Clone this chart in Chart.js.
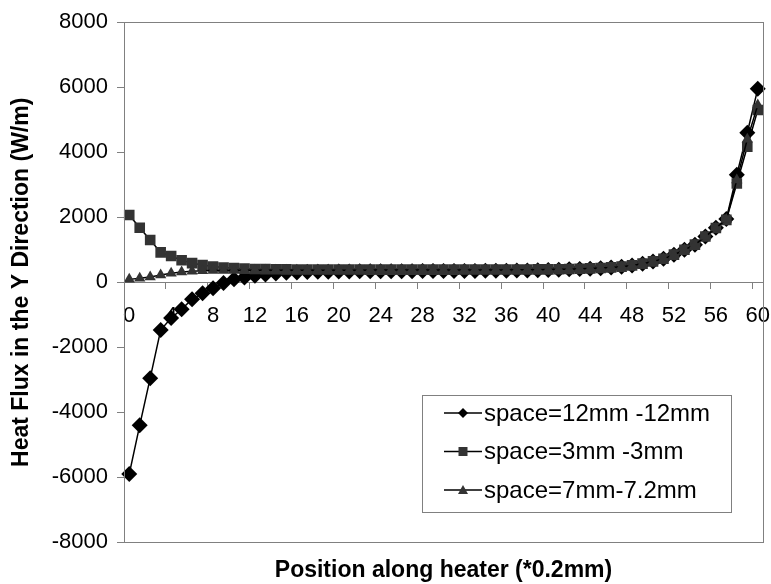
<!DOCTYPE html>
<html>
<head>
<meta charset="utf-8">
<script src="https://cdn.jsdelivr.net/npm/chart.js@4.4.0/dist/chart.umd.min.js"></script>
<style>
  html, body { margin: 0; padding: 0; background: #fff; }
  #wrap { width: 771px; height: 584px; position: relative; }
</style>
</head>
<body>
<div id="wrap"><canvas id="grafico"></canvas></div>
<script>
// posições ao longo do aquecedor (*0.2mm)
const positions = ['0','1','2','3','4','5','6','7','8','9',
  '10','11','12','13','14','15','16','17','18','19',
  '20','21','22','23','24','25','26','27','28','29',
  '30','31','32','33','34','35','36','37','38','39',
  '40','41','42','43','44','45','46','47','48','49',
  '50','51','52','53','54','55','56','57','58','59','60'];

const xTickLabels = ['0','4','8','12','16','20','24','28','32','36','40','44','48','52','56','60'];

// space=12mm -12mm (losango)
const space12 = [-5900, -4400, -2950, -1470, -1100, -830, -520, -340, -180, -20,
  90, 150, 200, 240, 270, 290, 305, 315, 322, 328,
  332, 335, 337, 339, 340, 341, 342, 343, 344, 345,
  346, 347, 348, 350, 352, 354, 357, 360, 364, 369,
  380, 388, 398, 408, 420, 434, 454, 478, 516, 570,
  642, 722, 848, 998, 1158, 1405, 1675, 1950, 3310, 4600,
  5950];

// space=3mm -3mm (quadrado)
const space3 = [2070, 1680, 1300, 920, 810, 680, 590, 530, 485, 455,
  435, 420, 410, 404, 400, 397, 395, 394, 393, 393,
  392, 392, 392, 391, 391, 391, 391, 391, 391, 391,
  391, 391, 392, 392, 392, 393, 393, 394, 395, 396,
  398, 403, 410, 418, 428, 440, 458, 482, 520, 575,
  645, 725, 850, 1000, 1160, 1410, 1670, 1920, 3040, 4170,
  5300];

// space=7mm-7.2mm (triângulo)
const space7 = [90, 125, 165, 225, 275, 315, 340, 352, 360, 364,
  367, 369, 370, 371, 372, 372, 373, 373, 373, 374,
  374, 374, 374, 375, 375, 375, 375, 375, 376, 376,
  376, 377, 377, 378, 379, 380, 381, 383, 385, 388,
  392, 398, 405, 414, 425, 437, 455, 480, 518, 572,
  642, 722, 848, 998, 1158, 1405, 1672, 1930, 3150, 4400,
  5450];

const yTicks = [-8000, -6000, -4000, -2000, 0, 2000, 4000, 6000, 8000];

const cinza = '#808080';
Chart.defaults.font.family = "'Liberation Sans', Arial, sans-serif";
Chart.defaults.color = '#000';

// moldura da área do gráfico + legenda com caixa
const molduraLegenda = {
  id: 'molduraLegenda',
  afterDraw(chart) {
    const { ctx, chartArea } = chart;
    ctx.save();
    ctx.strokeStyle = cinza;
    ctx.lineWidth = 1;
    ctx.strokeRect(Math.round(chartArea.left) + 0.5, Math.round(chartArea.top) + 0.5,
      Math.round(chartArea.right - chartArea.left), Math.round(chartArea.bottom - chartArea.top));

    const w = 309, h = 117;
    const bx = Math.round(chartArea.right - 32 - w);
    const by = Math.round(chartArea.bottom - 30 - h);
    ctx.fillStyle = '#fff';
    ctx.fillRect(bx, by, w, h);
    ctx.strokeRect(bx + 0.5, by + 0.5, w, h);

    chart.data.datasets.forEach((ds, i) => {
      const cy = by + 18 + i * 38.5;
      const mx = bx + 41;
      ctx.strokeStyle = '#000';
      ctx.lineWidth = 1.5;
      ctx.beginPath();
      ctx.moveTo(bx + 22, cy);
      ctx.lineTo(bx + 60, cy);
      ctx.stroke();
      ctx.fillStyle = ds.pointBackgroundColor;
      ctx.beginPath();
      if (ds.pointStyle === 'rectRot') {
        ctx.moveTo(mx, cy - 5); ctx.lineTo(mx + 5, cy); ctx.lineTo(mx, cy + 5); ctx.lineTo(mx - 5, cy);
      } else if (ds.pointStyle === 'rect') {
        ctx.rect(mx - 4.5, cy - 4.5, 9, 9);
      } else {
        ctx.moveTo(mx, cy - 5); ctx.lineTo(mx + 5, cy + 4); ctx.lineTo(mx - 5, cy + 4);
      }
      ctx.closePath();
      ctx.fill();
      ctx.fillStyle = '#000';
      ctx.font = "24px 'Liberation Sans', Arial, sans-serif";
      ctx.textBaseline = 'middle';
      ctx.textAlign = 'left';
      ctx.fillText(ds.label, bx + 62, cy + 1);
    });
    ctx.restore();
  }
};

const ctx = document.getElementById('grafico').getContext('2d');
new Chart(ctx, {
  type: 'line',
  data: {
    labels: positions,
    datasets: [
      {
        label: 'space=12mm -12mm',
        data: space12,
        borderColor: '#000',
        borderWidth: 1.5,
        pointStyle: 'rectRot',
        pointRadius: 8,
        pointBackgroundColor: '#000',
        pointBorderColor: '#000',
        pointBorderWidth: 0,
        tension: 0,
        order: 2
      },
      {
        label: 'space=3mm -3mm',
        data: space3,
        borderColor: '#000',
        borderWidth: 1.5,
        pointStyle: 'rect',
        pointRadius: 7.5,
        pointBackgroundColor: '#333',
        pointBorderColor: '#333',
        pointBorderWidth: 0,
        tension: 0,
        order: 1
      },
      {
        label: 'space=7mm-7.2mm',
        data: space7,
        borderColor: '#000',
        borderWidth: 1.5,
        pointStyle: 'triangle',
        pointRadius: 6.5,
        pointBackgroundColor: '#333',
        pointBorderColor: '#333',
        pointBorderWidth: 0,
        tension: 0,
        order: 0
      }
    ]
  },
  options: {
    responsive: true,
    maintainAspectRatio: false,
    animation: false,
    layout: { padding: { left: 0, right: 7, top: 20, bottom: 0 } },
    plugins: {
      legend: { display: false },
      tooltip: { enabled: false },
      title: {
        display: true,
        position: 'bottom',
        fullSize: false,
        text: 'Position along heater (*0.2mm)',
        color: '#000',
        font: { size: 23, weight: 'bold' },
        padding: { top: 14, bottom: 0 }
      }
    },
    scales: {
      x: {
        type: 'category',
        position: { y: 0 },
        offset: true,
        // o rótulo "60" fica cortado na borda, como no original
        afterFit: scale => { scale.paddingRight = 0; },
        border: { display: true, color: cinza, width: 1 },
        grid: {
          offset: true,
          drawOnChartArea: false,
          drawTicks: true,
          tickLength: 6,
          color: c => (c.index % 4 === 0 ? cinza : 'transparent')
        },
        ticks: {
          autoSkip: false,
          maxRotation: 0,
          minRotation: 0,
          padding: 14,
          color: '#000',
          font: { size: 22 },
          callback: function (value) {
            const lab = this.getLabelForValue(value);
            return xTickLabels.includes(lab) ? lab : '';
          }
        }
      },
      y: {
        min: yTicks[0],
        max: yTicks[yTicks.length - 1],
        afterFit: scale => { scale.width = 124; },
        afterBuildTicks: scale => { scale.ticks = yTicks.map(v => ({ value: v })); },
        border: { display: true, color: cinza, width: 1 },
        grid: {
          drawOnChartArea: false,
          drawTicks: true,
          tickLength: 7,
          color: cinza
        },
        ticks: {
          padding: 9,
          color: '#000',
          font: { size: 22 },
          callback: v => String(v)
        },
        title: {
          display: true,
          text: 'Heat Flux in the Y Direction (W/m)',
          color: '#000',
          font: { size: 23, weight: 'bold' },
          padding: { top: 8, bottom: 0 }
        }
      }
    }
  },
  plugins: [molduraLegenda]
});
</script>
</body>
</html>
